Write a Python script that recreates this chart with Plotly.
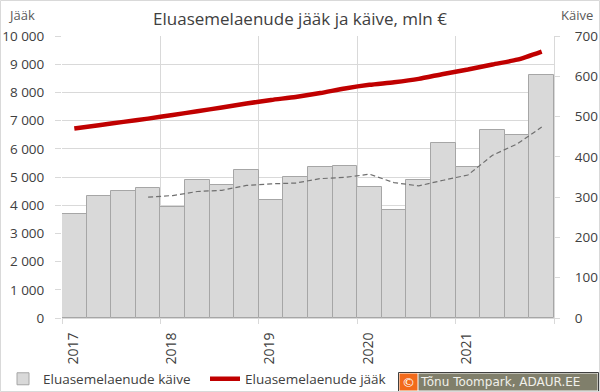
import plotly.graph_objects as go

quarters = ["2017Q1", "2017Q2", "2017Q3", "2017Q4",
            "2018Q1", "2018Q2", "2018Q3", "2018Q4",
            "2019Q1", "2019Q2", "2019Q3", "2019Q4",
            "2020Q1", "2020Q2", "2020Q3", "2020Q4",
            "2021Q1", "2021Q2", "2021Q3", "2021Q4"]
years = ["2017", "2018", "2019", "2020", "2021", ""]

# käive (turnover), mln € - right axis
kaive = [257, 304, 316, 322, 275, 342, 330, 367, 292, 351,
         374, 377, 324, 268, 342, 434, 374, 466, 455, 602]
# 4-quarter moving average of käive (dashed)
kaive_avg = [None, None, None, 300, 304, 314, 317, 329, 333, 335,
             346, 349, 357, 336, 328, 342, 355, 404, 432, 474]
# jääk (balance), mln € - left axis
jaak = [6720, 6838, 6955, 7070, 7198, 7332, 7466, 7605, 7732, 7840,
        7977, 8140, 8269, 8360, 8480, 8654, 8810, 8990, 9160, 9450]

W, H = 600, 392
ML, MR, MT, MB = 62, 46, 36, 74
PW, PH = W - ML - MR, H - MT - MB

def px(x):
    return (x - ML) / PW

def py(y):
    return (H - MB - y) / PH

idx = list(range(len(quarters)))
year_pos = [i - 0.5 for i in range(0, len(quarters) + 1, 4)]

FONT = "Open Sans"
GRID = "#d9d9d9"
TXT = "#404040"

fig = go.Figure()
fig.add_trace(go.Bar(
    x=idx, y=kaive, yaxis="y2", width=1,
    name="Eluasemelaenude käive",
    marker=dict(color="#d9d9d9", line=dict(color="#a6a6a6", width=1)),
    hovertext=quarters,
))
fig.add_trace(go.Scatter(
    x=idx, y=kaive_avg, yaxis="y2", mode="lines",
    line=dict(color="#6f6f6f", width=1.2, dash="5px,3px"),
    showlegend=False, hovertext=quarters,
))
fig.add_trace(go.Scatter(
    x=idx, y=jaak, mode="lines",
    name="Eluasemelaenude jääk",
    line=dict(color="#c00000", width=4.5, shape="spline", smoothing=0.6),
    hovertext=quarters,
))

fig.update_layout(
    width=W, height=H,
    margin=dict(l=ML, r=MR, t=MT, b=MB, autoexpand=False),
    paper_bgcolor="white", plot_bgcolor="white",
    separators=", ",
    font=dict(family=FONT, size=13.5, color=TXT),
    title=dict(text="Eluasemelaenude jääk ja käive, mln €",
               x=0.5, xanchor="center", y=1 - 19 / H, yanchor="middle",
               font=dict(family=FONT, size=17, color=TXT)),
    bargap=0,
    xaxis=dict(range=[-0.5, len(quarters) - 0.5], automargin=False,
               tickmode="array", tickvals=year_pos, ticktext=years,
               tickangle=-90, ticklabelshift=11, ticklabelstandoff=3,
               ticks="outside", ticklen=5, tickcolor=GRID,
               showgrid=True, gridcolor=GRID, gridwidth=1,
               showline=True, linecolor=GRID, zeroline=False,
               tickfont=dict(size=14, color=TXT)),
    yaxis=dict(range=[0, 10000], dtick=1000, tickformat=",d", automargin=False,
               ticks="outside", ticklen=6, tickcolor=GRID,
               showgrid=True, gridcolor=GRID, zeroline=False,
               showline=False, ticklabelstandoff=8,
               tickfont=dict(size=13.5, color=TXT)),
    yaxis2=dict(range=[0, 700], dtick=100, overlaying="y", side="right",
                automargin=False,
                ticks="outside", ticklen=5, tickcolor=GRID,
                showgrid=False, zeroline=False,
                showline=True, linecolor=GRID, ticklabelstandoff=12,
                tickfont=dict(size=13.5, color=TXT)),
    legend=dict(orientation="h", x=px(3), y=py(379), xanchor="left",
                yanchor="middle", entrywidth=157, entrywidthmode="pixels",
                font=dict(size=13.5, color=TXT), traceorder="normal",
                bgcolor="rgba(0,0,0,0)"),
    showlegend=True,
)

fig.add_annotation(text="Jääk", xref="paper", yref="paper",
                   x=px(6), y=py(15), xanchor="left", yanchor="middle",
                   showarrow=False, font=dict(size=13, color="#595959"))
fig.add_annotation(text="Käive", xref="paper", yref="paper",
                   x=px(595), y=py(15), xanchor="right", yanchor="middle",
                   showarrow=False, font=dict(size=13, color="#595959"))

# copyright badge
fig.add_annotation(text="©", xref="paper", yref="paper",
                   x=px(399), y=py(382), xanchor="left", yanchor="middle",
                   width=15, height=14, borderpad=1, showarrow=False,
                   bgcolor="#f26a1b", font=dict(family="DejaVu Sans", size=13, color="white"))
fig.add_annotation(text="Tõnu Toompark, ADAUR.EE", xref="paper", yref="paper",
                   x=px(418), y=py(382), xanchor="left", yanchor="middle",
                   width=176, height=14, borderpad=1, showarrow=False, align="left",
                   bgcolor="#807f6b", font=dict(family="DejaVu Sans", size=12, color="#f0f0ea"))
fig.add_shape(type="rect", xref="paper", yref="paper",
              x0=px(398.5), x1=px(598.5), y0=py(391.5), y1=py(372.5),
              line=dict(color="#404040", width=1), fillcolor="rgba(0,0,0,0)")
# outer chart border
fig.add_shape(type="rect", xref="paper", yref="paper",
              x0=px(0.5), x1=px(599.5), y0=py(391.5), y1=py(0.5),
              line=dict(color=GRID, width=1), fillcolor="rgba(0,0,0,0)")

fig.write_html("out.html", config={"displayModeBar": False},
               post_script="document.body.style.margin='0px';")
